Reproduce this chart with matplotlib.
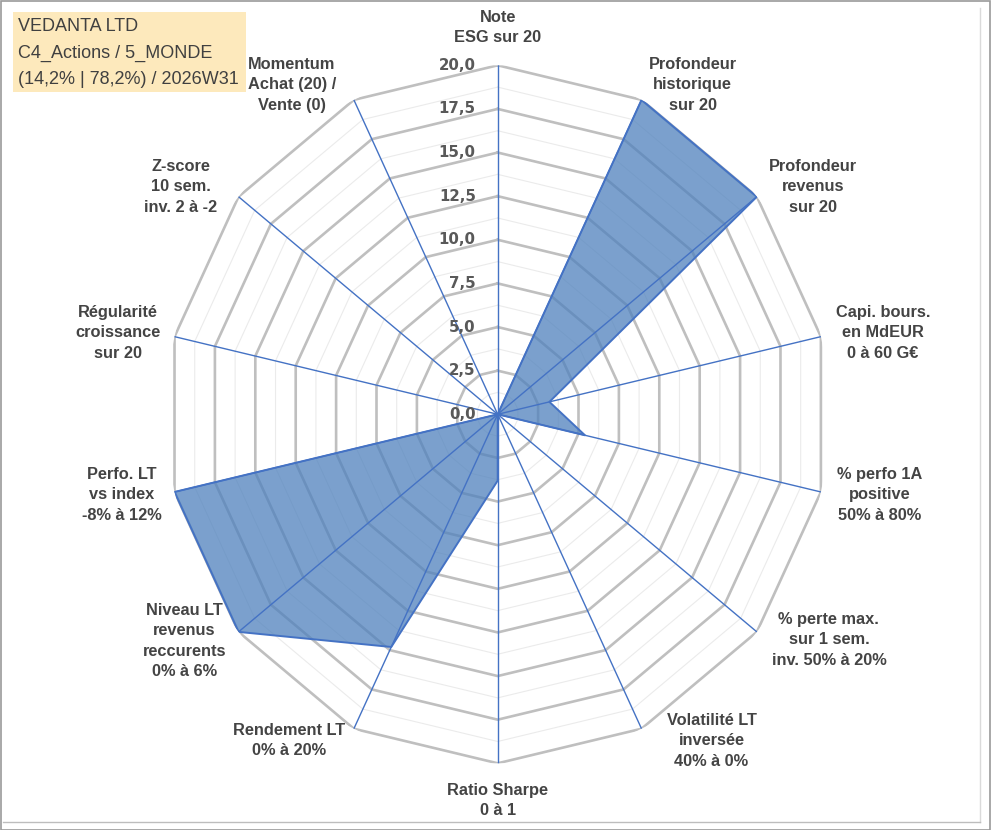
import numpy as np
import matplotlib.pyplot as plt
from matplotlib.patches import Rectangle
from matplotlib.lines import Line2D

# axes of the radar, clockwise from the top
categories = [
    "Note\nESG sur 20",
    "Profondeur\nhistorique\nsur 20",
    "Profondeur\nrevenus\nsur 20",
    "Capi. bours.\nen MdEUR\n0 à 60 G€",
    "% perfo 1A\npositive\n50% à 80%",
    "% perte max.\nsur 1 sem.\ninv. 50% à 20%",
    "Volatilité LT\ninversée\n40% à 0%",
    "Ratio Sharpe\n0 à 1",
    "Rendement LT\n0% à 20%",
    "Niveau LT\nrevenus\nreccurents\n0% à 6%",
    "Perfo. LT\nvs index\n-8% à 12%",
    "Régularité\ncroissance\nsur 20",
    "Z-score\n10 sem.\ninv. 2 à -2",
    "Momentum\nAchat (20) /\nVente (0)",
]
values = [0, 20, 20, 3.2, 5.4, 0, 0, 3.8, 14.8, 20, 20, 0, 0, 0]

r_ticks = [0, 2.5, 5, 7.5, 10, 12.5, 15, 17.5, 20]
r_tick_labels = ["0,0", "2,5", "5,0", "7,5", "10,0", "12,5", "15,0", "17,5", "20,0"]
r_minor = [1.25, 3.75, 6.25, 8.75, 11.25, 13.75, 16.25, 18.75]

title_lines = ["VEDANTA LTD", "C4_Actions / 5_MONDE", "(14,2% | 78,2%) / 2026W31"]

# label offsets from the end of each spoke (pixels, y up)
label_off = [(0, 38), (51, 15), (56, 10), (62, 4), (59, -3), (72, -8), (70, -12),
             (0, -37), (-65, -12), (-54, -9), (-53, -3), (-57, 4), (-58, 10), (-62, 15)]

n = len(categories)
theta = np.arange(n) * 2 * np.pi / n
th = np.append(theta, theta[0])
vals = np.append(values, values[0])

W, H = 991, 830
fig = plt.figure(figsize=(W / 100, H / 100), dpi=100)
ax = fig.add_axes([166.2 / W, (H - 763.3) / H, 663 / W, 698 / H], projection="polar")
ax.set_aspect("auto")
ax.set_theta_zero_location("N")
ax.set_theta_direction(-1)
ax.set_ylim(0, 20)
ax.grid(False)
ax.spines["polar"].set_visible(False)
ax.set_xticks([])
ax.set_yticks([])

for r in r_minor:
    ax.plot(th, [r] * len(th), color="#EBEBEB", lw=0.8, zorder=1)
for r in r_ticks[1:]:
    ax.plot(th, [r] * len(th), color="#BFBFBF", lw=1.9, zorder=2)

ax.fill(th, vals, color="#4F81BD", alpha=0.75, lw=0, zorder=3)
for t in theta:
    ax.plot([t, t], [0, 20], color="#4472C4", lw=1.0, zorder=4)
ax.plot(th, vals, color="#4472C4", lw=1.4, zorder=5)

for r, lab in zip(r_ticks, r_tick_labels):
    ax.annotate(lab, xy=(0, r), xytext=(-22, 0), textcoords="offset pixels",
                ha="right", va="center", fontsize=10.8, fontweight="bold",
                family="DejaVu Sans", color="#595959", zorder=6,
                annotation_clip=False)

for t, cat, off in zip(theta, categories, label_off):
    ax.annotate(cat, xy=(t, 20), xytext=off, textcoords="offset pixels",
                ha="center", va="center", multialignment="center",
                fontsize=11.8, fontweight="bold", family="Liberation Sans",
                color="#444444", linespacing=1.45, annotation_clip=False)

# title box
fig.patches.append(Rectangle((12.7 / W, 1 - 91.7 / H), 233 / W, 80 / H,
                             transform=fig.transFigure, fc="#FDE9BC", ec="none"))
for i, line in enumerate(title_lines):
    fig.text(18 / W, 1 - (26.7 + 26.6 * i) / H, line, va="center", ha="left",
             fontsize=13, family="Liberation Sans", color="#404040")

# frame
fig.patches.append(Rectangle((0.5 / W, 0.5 / H), (W - 1.5) / W, (H - 1.5) / H,
                             transform=fig.transFigure, fc="none", ec="#9A9A9A", lw=1.2))
fig.lines.append(Line2D([980 / W, 980 / W], [8 / H, 1 - 8 / H], transform=fig.transFigure,
                        color="#DADADA", lw=1))
fig.lines.append(Line2D([3 / W, 980 / W], [8 / H, 8 / H], transform=fig.transFigure,
                        color="#BDBDBD", lw=1))

fig.savefig("out.png", dpi=100)
